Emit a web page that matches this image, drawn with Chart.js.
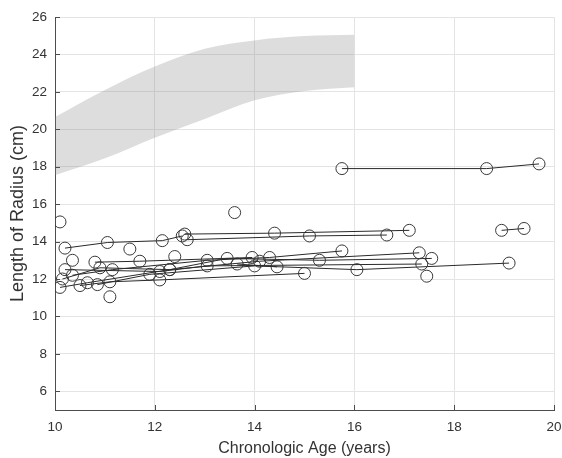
<!DOCTYPE html>
<html>
<head>
<meta charset="utf-8">
<script src="https://cdn.jsdelivr.net/npm/chart.js@4.4.1/dist/chart.umd.min.js"></script>
<style>
  html, body { margin: 0; padding: 0; background: #fff; }
  #wrap { width: 562px; height: 458px; }
</style>
</head>
<body>
<div id="wrap"><canvas id="radiusChart"></canvas></div>
<script>
// Reference band (normal range of radius length)
const bandAges  = [10, 11, 12, 13, 14, 15, 16];
const bandUpper = [20.65, 22.1, 23.35, 24.3, 24.75, 24.98, 25.05];
const bandLower = [17.55, 18.45, 19.55, 20.55, 21.55, 22.05, 22.25];

// Repeated measurements per patient, ages and lengths in matching order
const trackAges = [
  [10.2, 11.05, 12.15, 12.55],
  [12.6, 14.4, 17.1],
  [12.65, 15.1, 16.65],
  [10.2, 12.1, 13.05, 17.35],
  [10.15, 10.9, 12.3, 14.1, 17.3],
  [10.1, 10.65, 12.3, 13.45, 15.3, 17.55],
  [10.5, 11.1, 12.1, 15.0],
  [10.35, 11.15, 13.05, 14.3, 15.75],
  [10.85, 11.9, 14.0, 16.05, 19.1],
  [10.8, 11.7, 13.95],
  [13.65, 14.45],
  [15.75, 18.65, 19.7],
  [18.95, 19.4]
];
const trackLengths = [
  [13.65, 13.95, 14.05, 14.3],
  [14.4, 14.45, 14.6],
  [14.1, 14.3, 14.35],
  [12.5, 12.4, 12.7, 12.8],
  [12.0, 12.6, 12.5, 12.95, 13.4],
  [11.55, 11.8, 12.5, 13.1, 13.0, 13.1],
  [11.65, 11.85, 11.95, 12.3],
  [12.2, 12.5, 13.0, 13.15, 13.5],
  [11.7, 12.25, 12.7, 12.5, 12.85],
  [12.9, 12.95, 13.15],
  [12.8, 12.65],
  [17.9, 17.9, 18.15],
  [14.6, 14.7]
];

// Patients with a single measurement
const singleAges    = [10.1, 10.35, 11.1, 11.5, 12.4, 13.6, 17.45];
const singleLengths = [15.05, 13.0, 11.05, 13.6, 13.2, 15.55, 12.15];

const xTickValues = [10, 12, 14, 16, 18, 20];
const yTickValues = [6, 8, 10, 12, 14, 16, 18, 20, 22, 24, 26];

const AXIS_COLOR = '#4d4d4d';
const TEXT_COLOR = '#333333';
const GRID_COLOR = '#e4e4e4';
const FONT = "'Liberation Sans', Arial, Helvetica, sans-serif";

const pairUp = (xs, ys) => xs.map((x, i) => ({ x: x, y: ys[i] }));

const markerStyle = {
  pointRadius: 6,
  pointHoverRadius: 6,
  pointBorderWidth: 1,
  pointBorderColor: '#383838',
  pointBackgroundColor: 'rgba(0,0,0,0)',
  pointStyle: 'circle'
};

const datasets = [];

trackAges.forEach((ages, i) => {
  datasets.push(Object.assign({
    data: pairUp(ages, trackLengths[i]),
    showLine: true,
    borderColor: '#2a2a2a',
    borderWidth: 1,
    order: 1
  }, markerStyle));
});

datasets.push(Object.assign({
  data: pairUp(singleAges, singleLengths),
  showLine: false,
  order: 1
}, markerStyle));

// band: upper edge fills down to the lower edge (next dataset)
datasets.push({
  data: pairUp(bandAges, bandUpper),
  showLine: true,
  fill: '+1',
  backgroundColor: 'rgba(128,128,128,0.27)',
  borderWidth: 0,
  borderColor: 'rgba(0,0,0,0)',
  pointRadius: 0,
  cubicInterpolationMode: 'monotone',
  order: 10
});
datasets.push({
  data: pairUp(bandAges, bandLower),
  showLine: true,
  fill: false,
  borderWidth: 0,
  borderColor: 'rgba(0,0,0,0)',
  pointRadius: 0,
  cubicInterpolationMode: 'monotone',
  order: 11
});

// MATLAB-style ticks pointing into the plot
const inwardTicks = {
  id: 'inwardTicks',
  afterDraw(chart) {
    const { ctx, chartArea, scales } = chart;
    ctx.save();
    ctx.strokeStyle = AXIS_COLOR;
    ctx.lineWidth = 1;
    ctx.beginPath();
    xTickValues.forEach(v => {
      const px = Math.round(scales.x.getPixelForValue(v)) + 0.5;
      ctx.moveTo(px, chartArea.bottom);
      ctx.lineTo(px, chartArea.bottom - 5);
    });
    yTickValues.forEach(v => {
      const py = Math.round(scales.y.getPixelForValue(v)) + 0.5;
      ctx.moveTo(chartArea.left, py);
      ctx.lineTo(chartArea.left + 5, py);
    });
    ctx.stroke();
    ctx.restore();
  }
};

new Chart(document.getElementById('radiusChart'), {
  type: 'scatter',
  data: { datasets: datasets },
  options: {
    responsive: true,
    maintainAspectRatio: false,
    animation: false,
    events: [],
    layout: { padding: { top: 17, right: 0, left: 0, bottom: 0 } },
    plugins: {
      legend: { display: false },
      tooltip: { enabled: false },
      filler: { propagate: false }
    },
    scales: {
      x: {
        type: 'linear',
        min: 10,
        max: 20,
        afterBuildTicks: s => { s.ticks = xTickValues.map(v => ({ value: v })); },
        afterFit: s => {
          s.height = 48;
          s.paddingLeft = 0;
          s.paddingRight = 8;
        },
        grid: { color: GRID_COLOR, drawTicks: false },
        border: { display: true, color: AXIS_COLOR, width: 1 },
        ticks: {
          color: TEXT_COLOR,
          padding: 9,
          maxRotation: 0,
          font: { family: FONT, size: 13.5 }
        },
        title: {
          display: true,
          text: 'Chronologic Age (years)',
          color: TEXT_COLOR,
          padding: { top: 0, bottom: 0 },
          font: { family: FONT, size: 16 }
        }
      },
      y: {
        type: 'linear',
        min: 5,
        max: 26,
        afterBuildTicks: s => { s.ticks = yTickValues.map(v => ({ value: v })); },
        afterFit: s => {
          s.width = 55;
          s.paddingTop = 0;
          s.paddingBottom = 0;
        },
        grid: { color: GRID_COLOR, drawTicks: false },
        border: { display: true, color: AXIS_COLOR, width: 1 },
        ticks: {
          color: TEXT_COLOR,
          padding: 8,
          font: { family: FONT, size: 13.5 }
        },
        title: {
          display: true,
          text: 'Length of Radius (cm)',
          color: TEXT_COLOR,
          padding: { top: 7, bottom: 0 },
          font: { family: FONT, size: 18 }
        }
      }
    }
  },
  plugins: [inwardTicks]
});
</script>
</body>
</html>
